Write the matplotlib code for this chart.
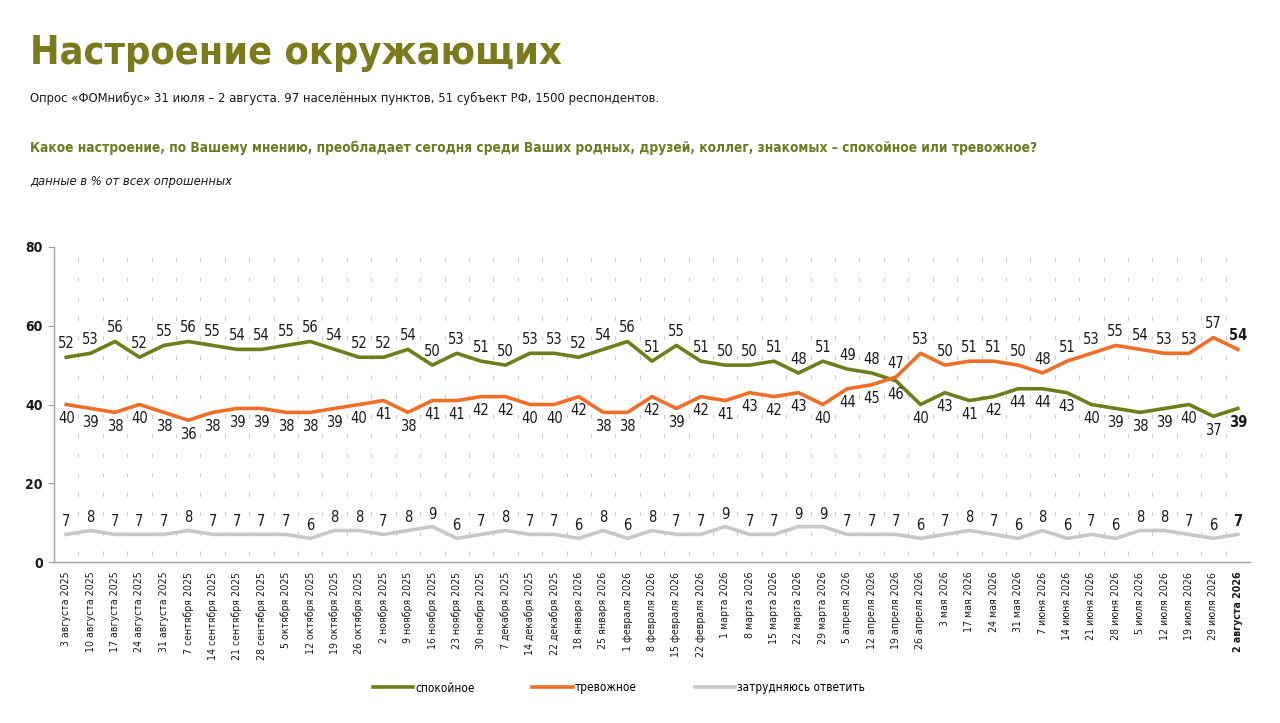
import matplotlib
matplotlib.use("Agg")
import matplotlib.pyplot as plt
from matplotlib import font_manager as fm
import numpy as np

# the reference uses a narrow sans; take a condensed face if one is installed
narrow = None
for f in fm.fontManager.ttflist:
    if "Narrow" in f.name or "Condensed" in f.name or f.stretch in ("condensed", "semi-condensed"):
        narrow = f.name
        break
FAM = [narrow, "DejaVu Sans"] if narrow else ["Roboto", "DejaVu Sans"]
plt.rcParams['font.family'] = FAM
if narrow == "DejaVu Sans":
    plt.rcParams['font.stretch'] = "condensed"

dates = ["3 августа 2025", "10 августа 2025", "17 августа 2025", "24 августа 2025",
         "31 августа 2025", "7 сентября 2025", "14 сентября 2025", "21 сентября 2025",
         "28 сентября 2025", "5 октября 2025", "12 октября 2025", "19 октября 2025",
         "26 октября 2025", "2 ноября 2025", "9 ноября 2025", "16 ноября 2025",
         "23 ноября 2025", "30 ноября 2025", "7 декабря 2025", "14 декабря 2025",
         "22 декабря 2025", "18 января 2026", "25 января 2026", "1 февраля 2026",
         "8 февраля 2026", "15 февраля 2026", "22 февраля 2026", "1 марта 2026",
         "8 марта 2026", "15 марта 2026", "22 марта 2026", "29 марта 2026",
         "5 апреля 2026", "12 апреля 2026", "19 апреля 2026", "26 апреля 2026",
         "3 мая 2026", "17 мая 2026", "24 мая 2026", "31 мая 2026", "7 июня 2026",
         "14 июня 2026", "21 июня 2026", "28 июня 2026", "5 июля 2026", "12 июля 2026",
         "19 июля 2026", "29 июля 2026", "2 августа 2026"]

calm = [52, 53, 56, 52, 55, 56, 55, 54, 54, 55, 56, 54, 52, 52, 54, 50,
        53, 51, 50, 53, 53, 52, 54, 56, 51, 55, 51, 50, 50, 51, 48, 51, 49,
        48, 46, 40, 43, 41, 42, 44, 44, 43, 40, 39, 38, 39, 40, 37, 39]
anxious = [40, 39, 38, 40, 38, 36, 38, 39, 39, 38, 38, 39, 40, 41, 38, 41,
           41, 42, 42, 40, 40, 42, 38, 38, 42, 39, 42, 41, 43, 42, 43, 40, 44,
           45, 47, 53, 50, 51, 51, 50, 48, 51, 53, 55, 54, 53, 53, 57, 54]
hard = [7, 8, 7, 7, 7, 8, 7, 7, 7, 7, 6, 8, 8, 7, 8, 9,
        6, 7, 8, 7, 7, 6, 8, 6, 8, 7, 7, 9, 7, 7, 9, 9, 7,
        7, 7, 6, 7, 8, 7, 6, 8, 6, 7, 6, 8, 8, 7, 6, 7]

names = ["спокойное", "тревожное", "затрудняюсь ответить"]
GREEN = "#6f7d1c"
ORANGE = "#ef6f2a"
GREY = "#c8c8c8"
OLIVE = "#7b7b1e"

fig = plt.figure(figsize=(12.8, 7.23), dpi=100)
ax = fig.add_axes([54 / 1280, 1 - 562 / 723, 1196 / 1280, 315 / 723])
renderer = fig.canvas.get_renderer()


def fit_text(x_px, base_px, s, width_px, size, **kw):
    # put a header line and scale it to the width it has in the reference
    t = fig.text(x_px / 1280, 1 - base_px / 723, s, va="baseline", fontsize=size, **kw)
    w = t.get_window_extent(renderer).width
    t.set_fontsize(size * width_px / w)
    return t


x = np.arange(len(dates))
n = len(dates)

# dashed vertical separators between dates
for b in np.arange(0.5, n + 0.5, 1):
    ax.plot([b, b], [80, 0], color="#cccccc", lw=0.8,
            linestyle=(8, (3.6, 14)), zorder=0)

ax.plot(x, hard, color=GREY, lw=2.6, zorder=2, label=names[2])
ax.plot(x, calm, color=GREEN, lw=2.6, zorder=3, label=names[0])
ax.plot(x, anxious, color=ORANGE, lw=2.6, zorder=3, label=names[1])

for i in x:
    fw = "bold" if i == n - 1 else "normal"
    c, a = calm[i], anxious[i]
    ax.annotate(str(c), (i, c), xytext=(0, 10 if c > a else -10),
                textcoords="offset points", ha="center", va="center",
                fontsize=10.5, color="#1a1a1a", fontweight=fw)
    ax.annotate(str(a), (i, a), xytext=(0, 10 if a > c else -10),
                textcoords="offset points", ha="center", va="center",
                fontsize=10.5, color="#1a1a1a", fontweight=fw)
    ax.annotate(str(hard[i]), (i, hard[i]), xytext=(0, 9),
                textcoords="offset points", ha="center", va="center",
                fontsize=10.5, color="#1a1a1a", fontweight=fw)

ax.set_xlim(-0.5, n - 0.5)
ax.set_ylim(0, 80)
ax.set_yticks([0, 20, 40, 60, 80])
ax.set_xticks(x)
ax.set_xticklabels(dates, rotation=90, fontsize=7.6, color="#1a1a1a")
ax.get_xticklabels()[-1].set_fontweight("bold")
ax.tick_params(axis="x", length=0, pad=7)
ax.tick_params(axis="y", length=4, color="#a0a0a0", labelsize=10,
               labelcolor="#1a1a1a", pad=4)
for lab in ax.get_yticklabels():
    lab.set_fontweight("bold")
for s in ["top", "right"]:
    ax.spines[s].set_visible(False)
for s in ["left", "bottom"]:
    ax.spines[s].set_color("#a0a0a0")
    ax.spines[s].set_linewidth(1)

fit_text(30, 64, "Настроение окружающих", 532, 40,
         fontweight="bold", color=OLIVE)
fit_text(30, 102,
         "Опрос «ФОМнибус» 31 июля – 2 августа. 97 населённых пунктов, 51 субъект РФ, 1500 респондентов.",
         630, 11, color="#1a1a1a")
fit_text(30, 152,
         "Какое настроение, по Вашему мнению, преобладает сегодня среди Ваших родных, друзей, коллег, знакомых – спокойное или тревожное?",
         1017, 13, fontweight="bold", color="#6f7a22")
fit_text(30, 185, "данные в % от всех опрошенных", 202, 10.5,
         style="italic", color="#1a1a1a")

h, l = ax.get_legend_handles_labels()
order = [1, 2, 0]
fig.legend([h[k] for k in order], [l[k] for k in order], loc="center left",
           bbox_to_anchor=(362 / 1280, 1 - 688 / 723), ncol=3, frameon=False,
           fontsize=8.5, handlelength=3.4, handletextpad=0.2, columnspacing=4.9)

fig.savefig("out.png", dpi=100)
